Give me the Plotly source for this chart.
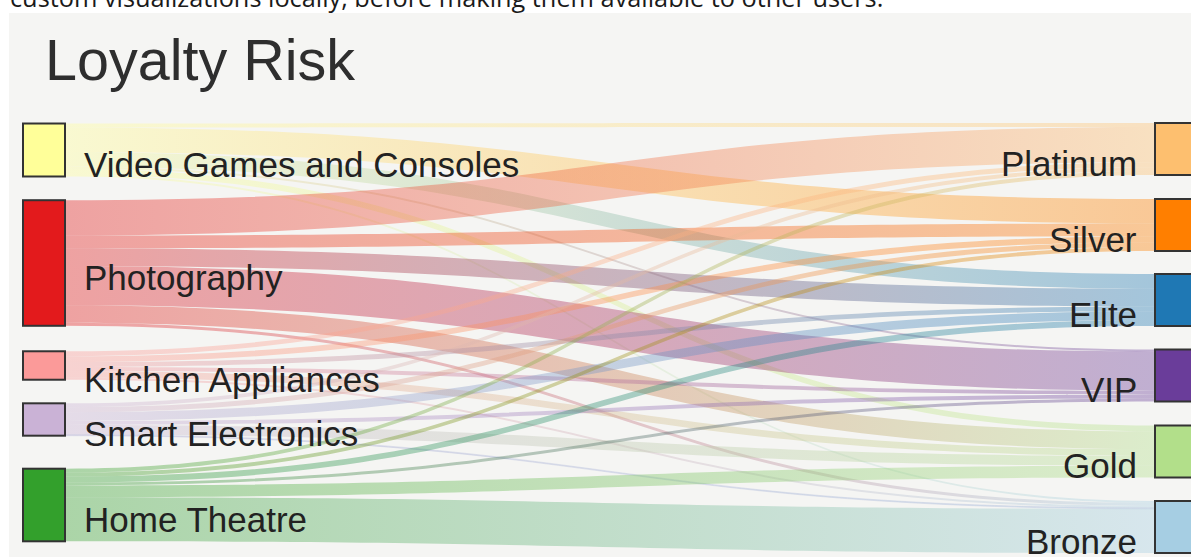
import json
import plotly.graph_objects as go

# ---------------- data ----------------
title_text = "Loyalty Risk"
page_text = "custom visualizations locally, before making them available to other users."

categories = ["Video Games and Consoles", "Photography", "Kitchen Appliances",
              "Smart Electronics", "Home Theatre"]
tiers = ["Platinum", "Silver", "Elite", "VIP", "Gold", "Bronze"]

# flow from each category to tiers (Platinum, Silver, Elite, VIP, Gold, Bronze)
video_games = [4, 25, 15, 2, 6, 2]
photography = [36, 13, 18, 40, 18, 3]
kitchen_appliances = [5, 6, 5, 4, 7, 2]
smart_electronics = [4, 5, 9, 4, 10, 1]
home_theatre = [4, 4, 6, 3, 12, 45]
flows = [video_games, photography, kitchen_appliances, smart_electronics, home_theatre]

category_colors = ["#ffff99", "#e31a1c", "#fb9a99", "#cab2d6", "#33a02c"]
tier_colors = ["#fdbf6f", "#ff7f00", "#1f78b4", "#6a3d9a", "#b2df8a", "#a6cee3"]

# ---------------- layout / style ----------------
W, H = 1191, 557
LEFT_CX, RIGHT_CX = 44, 1176
left_cy = [150, 263, 365.5, 419.5, 505]
right_cy = [149, 225, 300, 375.5, 451.5, 527]
LINK_ALPHA = 0.38
FONT = "Liberation Sans, Arial, Helvetica, sans-serif"


def hex_rgb(h):
    h = h.lstrip("#")
    return tuple(int(h[i:i + 2], 16) for i in (0, 2, 4))


def blend(a, b, alpha):
    ra, rb = hex_rgb(a), hex_rgb(b)
    m = [round((x + y) / 2) for x, y in zip(ra, rb)]
    return f"rgba({m[0]},{m[1]},{m[2]},{alpha})"


n_cat = len(categories)
sources, targets, values, link_colors, src_cols, tgt_cols = [], [], [], [], [], []
for i, row in enumerate(flows):
    for j, v in enumerate(row):
        sources.append(i)
        targets.append(n_cat + j)
        values.append(v)
        link_colors.append(blend(category_colors[i], tier_colors[j], LINK_ALPHA))
        src_cols.append(category_colors[i])
        tgt_cols.append(tier_colors[j])

node_x = [LEFT_CX / W] * len(categories) + [RIGHT_CX / W] * len(tiers)
node_y = [c / H for c in left_cy + right_cy]

fig = go.Figure(go.Sankey(
    arrangement="fixed",
    domain=dict(x=[0, 1], y=[0, 1]),
    hoverinfo="none",
    textfont=dict(color="rgba(0,0,0,0)", size=1),
    node=dict(
        label=categories + tiers,
        color=category_colors + tier_colors,
        thickness=42,
        pad=49,
        line=dict(color="#333333", width=2),
        x=node_x,
        y=node_y,
        hoverinfo="none",
    ),
    link=dict(source=sources, target=targets, value=values, color=link_colors,
              hoverinfo="none"),
))

annotations = []
# node labels (placed slightly below node centres, as in the reference)
for name, cy in zip(categories, left_cy):
    annotations.append(dict(text=name, x=83 / W, xref="paper", xanchor="left",
                            y=1 - (cy + 14) / H, yref="paper", yanchor="middle",
                            showarrow=False, borderpad=0,
                            font=dict(family=FONT, size=35, color="#222222")))
for name, cy in zip(tiers, right_cy):
    annotations.append(dict(text=name, x=1138 / W, xref="paper", xanchor="right",
                            y=1 - (cy + 14) / H, yref="paper", yanchor="middle",
                            showarrow=False, borderpad=0,
                            font=dict(family=FONT, size=35, color="#222222")))
# title
annotations.append(dict(text=title_text, x=44 / W, xref="paper", xanchor="left",
                        y=1 - 60 / H, yref="paper", yanchor="middle",
                        showarrow=False, borderpad=0,
                        font=dict(family=FONT, size=57.5, color="#2e2e2e")))
# page text cut off at the top
annotations.append(dict(text=page_text, x=9 / W, xref="paper", xanchor="left",
                        y=1 + 2.5 / H, yref="paper", yanchor="middle",
                        showarrow=False, borderpad=0,
                        font=dict(family="Open Sans, sans-serif", size=25.3, color="#1a1a1a")))

shapes = [
    dict(type="rect", xref="paper", yref="paper", x0=-0.01, x1=1.01,
         y0=1 - 13 / H, y1=1.05, fillcolor="#ffffff", line=dict(width=0), layer="above"),
    dict(type="rect", xref="paper", yref="paper", x0=-0.01, x1=9 / W,
         y0=-0.05, y1=1.05, fillcolor="#ffffff", line=dict(width=0), layer="above"),
]

fig.update_layout(
    width=W, height=H, autosize=False,
    margin=dict(l=0, r=0, t=0, b=0, pad=0),
    paper_bgcolor="#f5f5f3",
    annotations=annotations,
    shapes=shapes,
    showlegend=False,
)

post_script = """
(function(){
  document.body.style.margin = '0';
  document.body.style.padding = '0';
  document.documentElement.style.overflow = 'hidden';
  var gd = document.getElementById('{plot_id}');
  var SRC = __SRC__, TGT = __TGT__;
  var ns = 'http://www.w3.org/2000/svg';
  var links = gd.querySelectorAll('path.sankey-link');
  links.forEach(function(p, k){
    var d = p.__data__ || {};
    var i = (d.pointNumber !== undefined) ? d.pointNumber :
            ((d.link && d.link.pointNumber !== undefined) ? d.link.pointNumber : k);
    if (SRC[i] === undefined) { return; }
    var svg = p.ownerSVGElement;
    var defs = svg.querySelector('defs');
    if (!defs) { defs = document.createElementNS(ns, 'defs'); svg.insertBefore(defs, svg.firstChild); }
    var g = document.createElementNS(ns, 'linearGradient');
    g.setAttribute('id', 'lnkgrad' + i);
    g.setAttribute('x1', '0'); g.setAttribute('y1', '0');
    g.setAttribute('x2', '1'); g.setAttribute('y2', '0');
    var s1 = document.createElementNS(ns, 'stop');
    s1.setAttribute('offset', '0'); s1.setAttribute('stop-color', SRC[i]);
    var s2 = document.createElementNS(ns, 'stop');
    s2.setAttribute('offset', '1'); s2.setAttribute('stop-color', TGT[i]);
    g.appendChild(s1); g.appendChild(s2);
    defs.appendChild(g);
    p.style.fill = 'url(#lnkgrad' + i + ')';
  });
})();
""".replace("__SRC__", json.dumps(src_cols)).replace("__TGT__", json.dumps(tgt_cols))

fig.write_html("out.html", post_script=post_script,
               config={"displayModeBar": False, "staticPlot": True})
